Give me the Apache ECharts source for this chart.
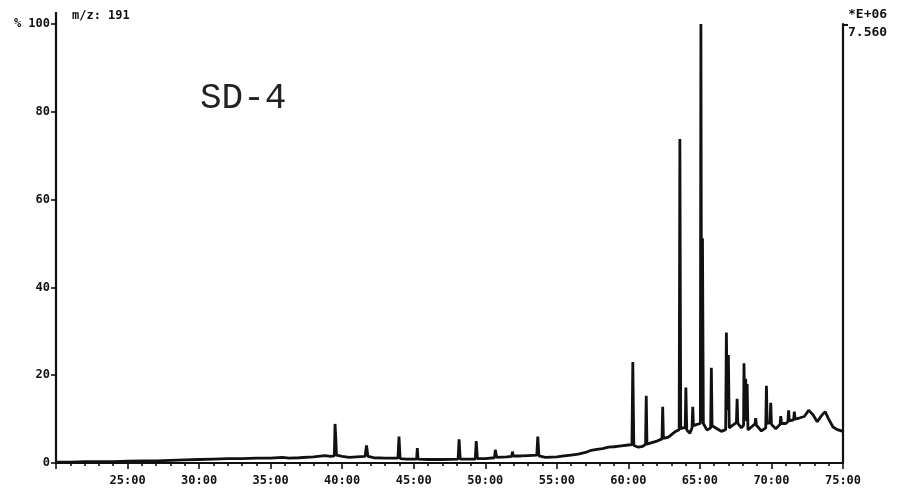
<!DOCTYPE html>
<html>
<head>
<meta charset="utf-8">
<script src="https://cdn.jsdelivr.net/npm/echarts@6/dist/echarts.min.js"></script>
<style>
html,body{margin:0;padding:0;background:#fff;}
#c{width:903px;height:496px;}
</style>
</head>
<body>
<div id="c"></div>
<script>
// Retention time (minutes) and relative abundance (%), m/z 191
const times = [
 20.0,21.0,22.0,23.0,24.0,25.0,26.0,27.0,28.0,29.0,30.0,31.0,32.0,33.0,34.0,35.0,35.8,36.3,37.0,38.0,38.8,39.2,
 39.45,39.5,39.55,39.6,40.0,40.5,41.0,41.6,41.7,41.8,42.2,43.0,43.9,43.97,44.05,44.5,45.2,45.25,45.3,46.0,47.0,
 48.1,48.17,48.25,49.3,49.37,49.45,50.0,50.65,50.7,50.8,51.5,51.85,51.9,51.95,52.5,53.0,53.6,53.67,53.75,54.2,
 55.0,55.5,56.0,56.5,57.0,57.4,57.8,58.2,58.6,59.0,59.5,60.0,60.25,60.31,60.38,60.7,61.0,61.2,61.25,61.3,61.7,
 62.0,62.35,62.4,62.45,62.8,63.1,63.3,63.55,63.6,63.66,63.8,63.97,64.02,64.08,64.3,64.45,64.5,64.55,64.8,
 65.03,65.07,65.12,65.18,65.24,65.5,65.75,65.8,65.85,66.2,66.5,66.8,66.85,66.92,66.99,67.05,67.3,67.55,67.6,
 67.65,67.9,68.05,68.08,68.14,68.2,68.26,68.3,68.36,68.6,68.85,68.9,68.95,69.3,69.6,69.65,69.7,69.9,69.95,70.0,
 70.3,70.6,70.65,70.7,71.0,71.15,71.2,71.25,71.55,71.6,71.65,72.0,72.3,72.6,72.9,73.2,73.5,73.75,74.0,74.3,
 74.6,75.0
];
const intensity = [
 0.2,0.2,0.3,0.3,0.3,0.4,0.5,0.5,0.6,0.7,0.8,0.9,1.0,1.0,1.1,1.1,1.3,1.1,1.2,1.4,1.7,1.5,
 1.6,8.9,6.0,1.8,1.5,1.3,1.4,1.5,4.0,1.5,1.2,1.1,1.1,6.0,1.0,0.9,0.9,3.4,0.9,0.8,0.8,
 0.9,5.4,0.9,0.9,5.0,1.0,1.0,1.2,3.0,1.3,1.4,1.5,2.6,1.6,1.6,1.7,1.8,6.0,1.6,1.3,
 1.4,1.6,1.8,2.0,2.4,2.9,3.1,3.3,3.6,3.7,3.9,4.1,4.2,23.0,4.0,3.6,3.8,4.2,15.3,4.3,4.7,
 5.0,5.5,12.8,5.6,5.9,6.7,7.2,7.6,73.8,7.8,8.0,8.0,17.2,7.5,6.8,8.0,12.8,8.5,8.8,
 9.0,100,9.5,51.2,9.0,7.5,8.0,21.7,8.5,7.8,7.2,7.6,29.7,12.0,24.6,8.0,8.6,9.2,14.6,
 9.0,8.0,8.6,22.7,10.0,19.2,9.5,18.0,7.5,8.2,8.9,10.2,8.6,7.3,8.0,17.6,9.0,9.2,13.7,8.8,
 7.8,8.8,10.7,9.0,9.0,9.4,12.0,9.6,9.8,11.7,10.0,10.3,10.6,12.0,11.0,9.4,10.8,11.7,10.0,8.2,
 7.6,7.2
];
const yTickValues = [0, 20, 40, 60, 80, 100];
const xTickLabels = ['25:00','30:00','35:00','40:00','45:00','50:00','55:00','60:00','65:00','70:00','75:00'];
const sampleName = 'SD-4';
const ionLabel = 'm/z: 191';
const scaleTop = '*E+06';
const scaleValue = '7.560';

const mono = "'DejaVu Sans Mono', 'Liberation Mono', monospace";
const ink = '#111';
const chart = echarts.init(document.getElementById('c'), null, {renderer: 'canvas'});
const data = times.map((t, i) => [t, intensity[i]]);

chart.setOption({
  animation: false,
  backgroundColor: '#fff',
  grid: {left: 56, right: 60, top: 24, bottom: 33, containLabel: false},
  xAxis: {
    type: 'value', min: 20, max: 75, interval: 5,
    axisLine: {show: true, lineStyle: {color: ink, width: 2.2}},
    axisTick: {show: true, length: 6, lineStyle: {color: ink, width: 1.6}},
    minorTick: {show: true, splitNumber: 5, length: 3, lineStyle: {color: ink, width: 1.6}},
    splitLine: {show: false},
    axisLabel: {
      color: ink, fontFamily: mono, fontWeight: 'bold', fontSize: 12, margin: 12,
      formatter: v => { const i = Math.round((v - 25) / 5); return (i >= 0 && i < xTickLabels.length) ? xTickLabels[i] : ''; }
    }
  },
  yAxis: [{
    type: 'value', min: 0, max: 100, interval: 20,
    axisLine: {show: true, lineStyle: {color: ink, width: 2.2}},
    axisTick: {show: true, length: 5, lineStyle: {color: ink, width: 1.6}},
    splitLine: {show: false},
    axisLabel: {
      color: ink, fontFamily: mono, fontWeight: 'bold', fontSize: 12, margin: 6,
      formatter: v => yTickValues.indexOf(v) < 0 ? '' : (v === 100 ? '% 100' : String(v))
    }
  }, {
    type: 'value', min: 0, max: 100, position: 'right',
    axisLine: {show: true, lineStyle: {color: ink, width: 2.2}},
    axisTick: {show: false}, axisLabel: {show: false}, splitLine: {show: false}
  }],
  series: [{
    type: 'line', data: data, showSymbol: false, symbol: 'none',
    lineStyle: {color: ink, width: 2.8}, z: 3
  }],
  graphic: [
    {type: 'line', shape: {x1: 56, y1: 12, x2: 56, y2: 25}, style: {stroke: ink, lineWidth: 2.2}},
    {type: 'line', shape: {x1: 843, y1: 25, x2: 848, y2: 25}, style: {stroke: ink, lineWidth: 2}},
    {type: 'text', left: 72, top: 10, style: {text: ionLabel, fill: ink, font: "bold 12px " + mono}},
    {type: 'text', left: 848, top: 8, style: {text: scaleTop, fill: ink, font: "bold 13px " + mono}},
    {type: 'text', left: 848, top: 26, style: {text: scaleValue, fill: ink, font: "bold 13px " + mono}},
    {type: 'text', left: 200, top: 80, style: {text: sampleName, fill: '#222', font: "36px 'Liberation Mono', 'Courier New', monospace"}}
  ]
});
</script>
</body>
</html>
